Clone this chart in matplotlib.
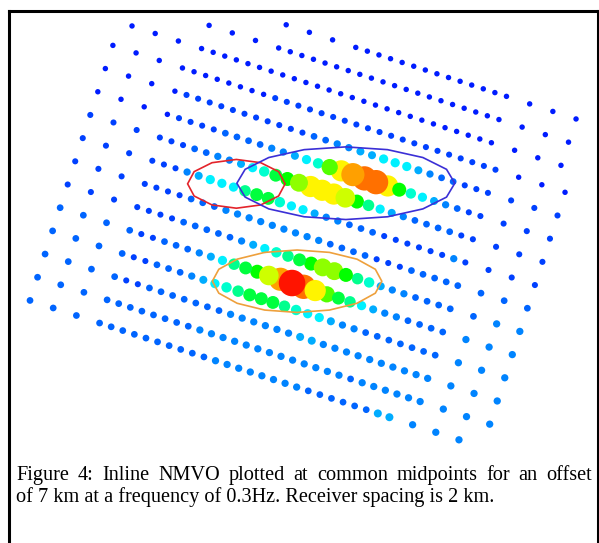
import numpy as np
import matplotlib
matplotlib.use("Agg")
import matplotlib.pyplot as plt
from matplotlib.colors import LinearSegmentedColormap
from matplotlib.lines import Line2D
from matplotlib.patches import Polygon

# ---------------------------------------------------------------------------
# Survey geometry
# ---------------------------------------------------------------------------
RECEIVER_SPACING_KM = 2.0        # one grid unit of the receiver array
INLINE_AZIMUTH_DEG = -18.0       # inline direction, measured from east
SECOND_SET_SHIFT = 3.5           # inline shift (grid units) of the second pair set

# crossline index of every midpoint line
row_numbers = [-2, -1, 0, 1, 2, 3, 4, 5, 6, 7, 8, 9, 10, 11, 12]
# inline position of the first midpoint of the first pair set, and its count
first_set_start = [6, 3, 0] + [-0.5] * 12
first_set_count = [10, 13, 16] + [17] * 11 + [16]

# NMVO amplitude classes
nmvo_code = {
    "0": 0.03, "1": 0.065, "2": 0.10, "3": 0.13, "4": 0.17, "5": 0.235,
    "6": 0.30, "7": 0.36, "8": 0.44, "9": 0.50, "a": 0.58, "b": 0.64,
    "c": 0.70, "d": 0.76, "e": 0.84, "f": 0.89, "g": 0.98,
}

# NMVO class of every midpoint along each line (ordered inline)
nmvo_rows = [
    "0000" + "0000000000000" + "000",
    "0000" + "0000000000000000000" + "000",
    "0000" + "0000000000000000000000000" + "000",
    "0000" + "000000011111111111111111111" + "000",
    "0000" + "111111111112233445554322111" + "111",
    "0000" + "1111222233456adeffd96543211" + "111",
    "1111" + "11223345689bdddc97543222211" + "111",
    "1111" + "113455578865543322211111131" + "111",
    "1111" + "111222333333333222211122222" + "222",
    "1111" + "111222223456789bb9764332222" + "233",
    "2222" + "11222345789cegfda8754332222" + "333",
    "2222" + "112223456788876554332222222" + "333",
    "2222" + "112222222333333443333333333" + "333",
    "2222" + "222222233333333333332333333" + "333",
    "2222" + "2222222223333333322222244" + "333",
]

# regions of interest: centre (E, N) km, semi-axes km, colour, vertices
region_center = [(8.56, -12.95), (17.54, -12.90), (13.54, -20.94)]
region_axes = [(4.0, 2.0), (8.94, 2.98), (6.95, 2.56)]
region_color = ["#e3242b", "#3b2fd6", "#eea03c"]
region_vertices = [12, 16, 16]

caption_lines = [
    "Figure 4: Inline NMVO plotted at common midpoints for an offset",
    "of 7 km at a frequency of 0.3Hz. Receiver spacing is 2 km.",
]

# ---------------------------------------------------------------------------
# Build midpoint coordinates
# ---------------------------------------------------------------------------
theta = np.deg2rad(INLINE_AZIMUTH_DEG)
inline_dir = np.array([np.cos(theta), np.sin(theta)])
cross_dir = np.array([np.sin(theta), -np.cos(theta)])

pts = {0: [], 1: []}   # 0: second set (drawn below), 1: first set
for v, start, count, codes in zip(row_numbers, first_set_start,
                                  first_set_count, nmvo_rows):
    first = start + np.arange(count)
    second = first + SECOND_SET_SHIFT
    u_all = np.sort(np.concatenate([first, second]))
    assert len(u_all) == len(codes), (v, len(u_all), len(codes))
    for u, c in zip(u_all, codes):
        layer = 1 if np.any(np.isclose(first, u)) else 0
        e, n = RECEIVER_SPACING_KM * (u * inline_dir + v * cross_dir)
        pts[layer].append((e, n, nmvo_code[c]))

# ---------------------------------------------------------------------------
# Figure
# ---------------------------------------------------------------------------
W_PX, H_PX, DPI = 599, 543, 100
PX_PER_KM = 12.19
MAP_LEFT_KM, MAP_TOP_KM = -10.83, 2.13

plt.rcParams["font.family"] = ["Liberation Serif", "DejaVu Serif"]
fig = plt.figure(figsize=(W_PX / DPI, H_PX / DPI), dpi=DPI)
fig.patch.set_facecolor("white")

ax = fig.add_axes([0, 0, 1, 1])
ax.set_xlim(MAP_LEFT_KM, MAP_LEFT_KM + W_PX / PX_PER_KM)
ax.set_ylim(MAP_TOP_KM - H_PX / PX_PER_KM, MAP_TOP_KM)
ax.axis("off")

cmap = LinearSegmentedColormap.from_list(
    "nmvo", ["#0000ff", "#00ffff", "#00ff00", "#ffff00", "#ff0000"])


def marker_area(val):
    d_px = np.interp(val, [0.0, 0.25, 0.5, 0.75, 1.0], [4.9, 9.5, 14.0, 21.0, 27.0])
    return (d_px * 72.0 / DPI) ** 2


for layer, z in ((0, 2), (1, 3)):
    arr = np.array(pts[layer])
    order = np.argsort(arr[:, 2], kind="stable")
    arr = arr[order]
    ax.scatter(arr[:, 0], arr[:, 1], c=arr[:, 2], cmap=cmap, vmin=0, vmax=1,
               s=marker_area(arr[:, 2]), linewidths=0, zorder=z)

for (cx, cy), (a, b), col, nv in zip(region_center, region_axes,
                                     region_color, region_vertices):
    t = np.linspace(0, 2 * np.pi, nv, endpoint=False)
    poly = Polygon(np.column_stack([cx + a * np.cos(t), cy + b * np.sin(t)]),
                   closed=True, fill=False, edgecolor=col, linewidth=1.2,
                   zorder=5)
    ax.add_patch(poly)

# frame around the figure panel (open at the bottom)
fx = lambda px: px / W_PX
fy = lambda py: 1 - py / H_PX
frame_kw = dict(color="black", linewidth=2.2, transform=fig.transFigure,
                solid_capstyle="projecting")
fig.add_artist(Line2D([fx(9.2), fx(9.2)], [fy(10.5), -0.02], **frame_kw))
fig.add_artist(Line2D([fx(9.2), fx(597.7)], [fy(10.5), fy(10.5)], **frame_kw))
fig.add_artist(Line2D([fx(597.7), fx(597.7)], [fy(10.5), -0.02], **frame_kw))

# caption: second line sets the font size, first line is justified
renderer = fig.canvas.get_renderer()
CAP_LEFT, CAP_RIGHT = 16.1, 592.3
probe = fig.text(0, 0, caption_lines[1], fontsize=10)
fs = 10 * 477.6 / probe.get_window_extent(renderer).width
probe.remove()

words = caption_lines[0].split()
widths = []
for w in words:
    t = fig.text(0, 0, w, fontsize=fs)
    widths.append(t.get_window_extent(renderer).width)
    t.remove()
gap = (CAP_RIGHT - CAP_LEFT - sum(widths)) / (len(words) - 1)
x = CAP_LEFT
for w, wd in zip(words, widths):
    fig.text(fx(x), fy(479.8), w, fontsize=fs, va="baseline", ha="left",
             color="black")
    x += wd + gap

fig.text(fx(CAP_LEFT), fy(502.3), caption_lines[1], fontsize=fs,
         va="baseline", ha="left", color="black")

fig.savefig("out.png", dpi=DPI, facecolor="white")
